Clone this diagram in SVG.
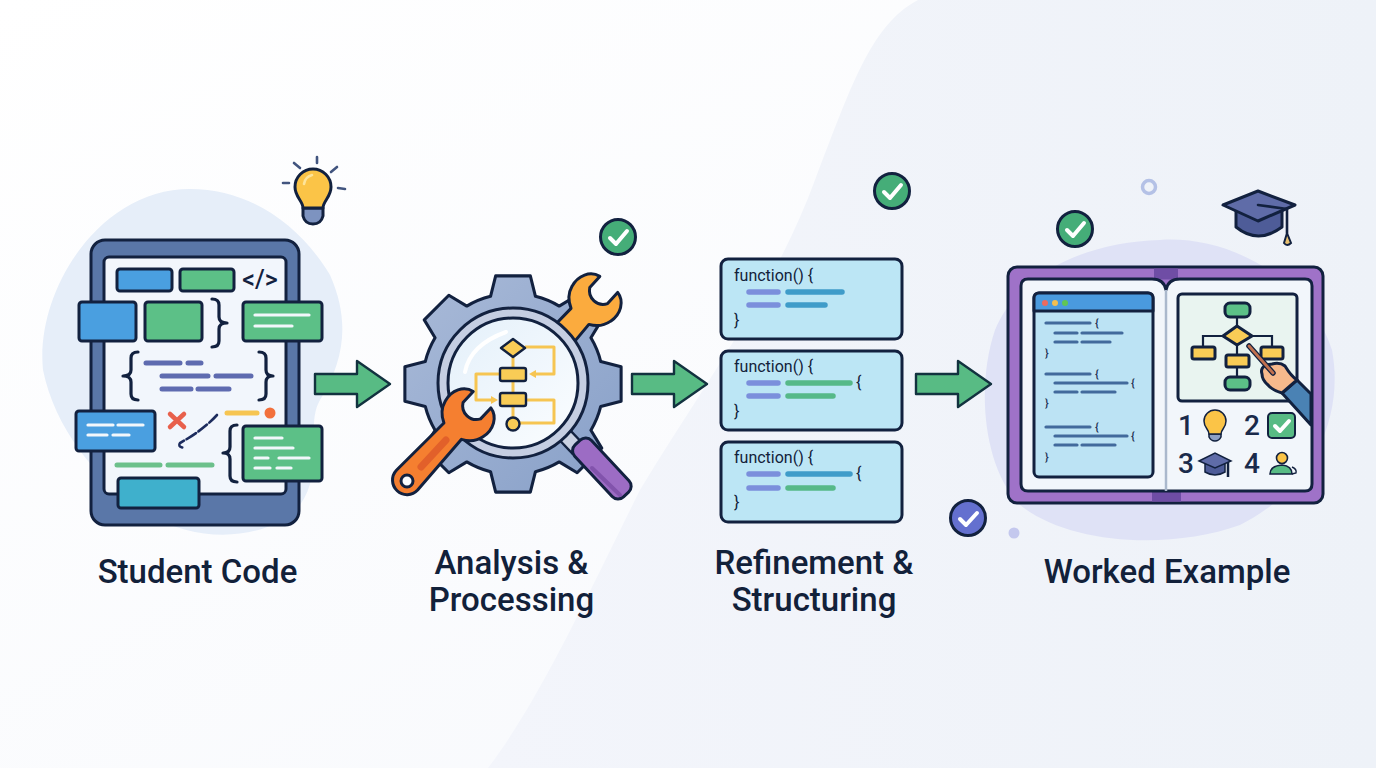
<svg xmlns="http://www.w3.org/2000/svg" xmlns:xlink="http://www.w3.org/1999/xlink" width="1376" height="768" viewBox="0 0 1376 768">
<style>
.o{stroke:#12213f;stroke-width:3;stroke-linejoin:round}
.t{stroke:#12213f;stroke-width:3.2;fill:none;stroke-linecap:round;stroke-linejoin:round}
.wl{stroke:#f2f7fb;stroke-width:3.2;stroke-linecap:round;fill:none}
.pl{stroke:#5f6bb0;stroke-width:5;stroke-linecap:round;fill:none}
.gl{stroke:#6cc08b;stroke-width:5;stroke-linecap:round;fill:none}
.yl{stroke:#f6c552;stroke-width:3;fill:none;stroke-linejoin:round}
.vl{stroke:#7b8fdc;stroke-width:5.5;stroke-linecap:round}
.cl{stroke:#3f9cc9;stroke-width:5.5;stroke-linecap:round}
.ml{stroke:#56b988;stroke-width:5.5;stroke-linecap:round}
.sl{stroke:#426a9c;stroke-width:3.2;stroke-linecap:round;fill:none}
.label{font-family:Roboto,"Liberation Sans",sans-serif;font-weight:500;font-size:33px;fill:#12213a;text-anchor:middle}
.code{font-family:Roboto,"Liberation Sans",sans-serif;font-weight:400;font-size:16px;fill:#12213a}
.mini{font-family:Roboto,"Liberation Sans",sans-serif;font-weight:500;font-size:11px;fill:#1b2e52}
.num{font-family:Roboto,"Liberation Sans",sans-serif;font-weight:500;font-size:28px;fill:#1a2a4a;text-anchor:middle}
.check{fill:none;stroke:#fff;stroke-width:4;stroke-linecap:round;stroke-linejoin:round}
</style>
<defs>
<linearGradient id="bg" x1="0" y1="0" x2="1" y2="1"><stop offset="0" stop-color="#ffffff"/><stop offset="1" stop-color="#f6f8fc"/></linearGradient>
<linearGradient id="sw" gradientUnits="userSpaceOnUse" x1="488" y1="0" x2="1376" y2="0"><stop offset="0" stop-color="#f3f5fb"/><stop offset="1" stop-color="#eef2f8"/></linearGradient>
<linearGradient id="gear" x1="0" y1="0" x2="1" y2="1"><stop offset="0" stop-color="#a9bad8"/><stop offset="1" stop-color="#88a0c8"/></linearGradient>
<linearGradient id="lens" x1="0" y1="0" x2="1" y2="1"><stop offset="0" stop-color="#e4f0fa"/><stop offset="1" stop-color="#fbfdff"/></linearGradient>
<path id="arrow" d="M0,-10 H42 V-23 L75,0 L42,23 V10 H0 Z" fill="#58bb84" stroke="#12323f" stroke-width="2.4" stroke-linejoin="round"/>
<path id="wr" d="M-12,-25 C-23,-23 -29,-11 -26,1 C-24,10 -18,15 -12,18 L-14.500,85 A14.500,14.500 0 0 0 14.500,85 L12,18 C18,15 24,10 26,1 C29,-11 23,-23 12,-25 L12,-10 Q8,-3 0,-3 Q-8,-3 -12,-10 Z"/>
</defs>

<g id="background">
<rect width="1376" height="768" fill="url(#bg)"/>
<path d="M918,0 C870,25 850,90 815,180 C775,290 700,390 640,490 C590,590 540,700 488,768 L1376,768 L1376,0 Z" fill="url(#sw)"/>
<path d="M190,189 C250,189 300,225 330,275 C350,320 345,360 320,400 C305,425 325,470 300,505 C270,540 200,545 150,515 C100,485 55,430 43,370 C35,290 100,189 190,189 Z" fill="#e6eef9"/>
<path d="M1160,240 C1230,235 1310,280 1332,350 C1345,420 1310,490 1240,525 C1170,550 1070,545 1020,505 C985,470 975,390 995,330 C1020,270 1090,242 1160,240 Z" fill="#dfe2f6"/>
</g>

<g id="connectors">
<use xlink:href="#arrow" href="#arrow" x="315" y="384"/>
<use xlink:href="#arrow" href="#arrow" x="632" y="384"/>
<use xlink:href="#arrow" href="#arrow" x="916" y="384"/>
</g>

<g id="node-student-code">
<rect x="91" y="240" width="208" height="285" rx="14" fill="#5a77a8" class="o"/>
<rect x="104" y="257" width="182" height="237" rx="5" fill="#f2f6fc" class="o"/>
<rect x="117" y="269" width="55" height="22" rx="3" fill="#4a9fe0" class="o"/>
<rect x="180" y="269" width="54" height="22" rx="3" fill="#5cc087" class="o"/>
<text x="260" y="288" font-family="Roboto,'Liberation Sans',sans-serif" font-size="25" font-weight="500" fill="#12213f" text-anchor="middle">&lt;/&gt;</text>
<rect x="79" y="302" width="57" height="39" rx="3" fill="#4a9fe0" class="o"/>
<rect x="145" y="302" width="57" height="39" rx="3" fill="#5cc087" class="o"/>
<path d="M212,299 Q219,299 219,305 V317 Q219,323 227,323 Q219,323 219,329 V341 Q219,347 212,347" class="t"/>
<rect x="243" y="302" width="79" height="39" rx="3" fill="#5cc087" class="o"/>
<path d="M255,315 H309 M255,326 H292" class="wl"/>
<path d="M138,352 Q131,352 131,358 V370 Q131,376 123,376 Q131,376 131,382 V394 Q131,400 138,400" class="t"/>
<path d="M259,352 Q266,352 266,358 V370 Q266,376 273,376 Q266,376 266,382 V394 Q266,400 259,400" class="t"/>
<path d="M146,363 H180 M188,363 H201 M162,376 H208 M216,376 H251 M162,389 H191 M198,389 H229" class="pl"/>
<rect x="76" y="411" width="79" height="40" rx="3" fill="#4a9fe0" class="o"/>
<path d="M88,425 H113 M118,425 H143 M88,435 H107 M113,435 H129" class="wl"/>
<path d="M170,414 L184,427 M184,414 L170,427" stroke="#e8604c" stroke-width="4.5" stroke-linecap="round"/>
<path d="M227,413 H257" stroke="#f6c552" stroke-width="5" stroke-linecap="round"/>
<circle cx="270" cy="413" r="5.5" fill="#f2703c"/>
<path d="M217,415 Q205,428 187,439 L180,443 Q177,447 185,448" fill="none" stroke="#1d2c5e" stroke-width="2.6" stroke-dasharray="11 3" stroke-linecap="round"/>
<path d="M237,425 Q230,425 230,431 V447 Q230,453 223,453 Q230,453 230,459 V476 Q230,482 237,482" class="t"/>
<rect x="243" y="426" width="79" height="55" rx="3" fill="#5cc087" class="o"/>
<path d="M255,438 H282 M255,448 H293 M255,458 H268 M279,458 H309 M255,468 H270 M277,468 H291" class="wl"/>
<path d="M117,465 H160 M168,465 H212" class="gl"/>
<rect x="118" y="478" width="81" height="30" rx="3" fill="#3fb0cc" class="o"/>
</g>

<g id="icon-bulb">
<path d="M317,157 V163 M294,163 L300,168 M337,167 L331,172 M283,183 H289 M338,188 L345,189" stroke="#42557f" stroke-width="2.6" stroke-linecap="round"/>
<path d="M303,216 V208 H323 V216 Q321,224 313,224 Q305,224 303,216 Z" fill="#7d93c0" class="o" stroke-width="2.6"/>
<path d="M303,208 C303,201 295,197 295,187 A18,18 0 1 1 331,187 C331,197 323,201 323,208 Z" fill="#fbc447" class="o" stroke-width="2.6"/>
<path d="M304,184 Q305,177 312,175" stroke="#fde49a" stroke-width="2.6" fill="none" stroke-linecap="round"/>
</g>

<g id="node-analysis">
<path transform="translate(513,384) scale(1.02)" fill="url(#gear)" class="o" d="M-22,-86 L-17,-106 L17,-106 L22,-86 A86,86 0 0 1 45.3,-76.4 L62.9,-87 L87,-62.9 L76.4,-45.3 A86,86 0 0 1 86,-22 L106,-17 L106,17 L86,22 A86,86 0 0 1 76.4,45.3 L87,62.9 L62.9,87 L45.3,76.4 A86,86 0 0 1 22,86 L17,106 L-17,106 L-22,86 A86,86 0 0 1 -45.3,76.4 L-62.9,87 L-87,62.9 L-76.4,45.3 A86,86 0 0 1 -86,22 L-106,17 L-106,-17 L-86,-22 A86,86 0 0 1 -76.4,-45.3 L-87,-62.9 L-62.9,-87 L-45.3,-76.4 A86,86 0 0 1 -22,-86 Z"/>
<use xlink:href="#wr" href="#wr" transform="translate(592,303) rotate(42)" fill="#fbab3e" class="o"/>
<path d="M558,428 L578,449" stroke="#12213f" stroke-width="17"/>
<path d="M558,428 L578,449" stroke="#c9d1e2" stroke-width="12"/>
<rect x="-2" y="-11.500" width="71" height="23" rx="8" transform="translate(579,444) rotate(47)" fill="#9c6cc4" class="o"/>
<path d="M592,468 L620,495" stroke="#8253ac" stroke-width="4" stroke-linecap="round"/>
<circle cx="513" cy="383" r="75" fill="#c5cee2" class="o"/>
<circle cx="513" cy="383" r="65" fill="url(#lens)" class="o"/>
<path d="M465,372 Q470,345 506,332" stroke="#fff" stroke-width="4" fill="none" stroke-linecap="round"/>
<path d="M513,356 V424" stroke="#f6c552" stroke-width="3"/>
<path d="M525,347 H554 V374 H534 M500,374 H476 V400 H493 M526,400 H554 V423 H520" class="yl"/>
<path d="M529,374 L536,370 V378 Z M498,400 L491,396 V404 Z" fill="#f6c552"/>
<path d="M513,339 L525,348 L513,357 L501,348 Z" fill="#f9cc56" stroke="#12213f" stroke-width="2.4" stroke-linejoin="round"/>
<rect x="500" y="368" width="26" height="13" rx="2" fill="#f9cc56" stroke="#12213f" stroke-width="2.4"/>
<rect x="500" y="393" width="26" height="13" rx="2" fill="#f9cc56" stroke="#12213f" stroke-width="2.4"/>
<circle cx="513" cy="424" r="6.5" fill="#f9cc56" stroke="#12213f" stroke-width="2.4"/>
<use xlink:href="#wr" href="#wr" transform="translate(465,418) rotate(43)" fill="#f57f30" class="o"/>
<path d="M446,440 L421,467" stroke="#e2602a" stroke-width="7" stroke-linecap="round"/>
<circle cx="407" cy="481" r="6" fill="#fbfdff" class="o"/>
</g>

<g id="node-refinement">
<g id="fn-1">
<rect x="721" y="259" width="181" height="80" rx="7" fill="#bce6f5" class="o"/>
<text x="734" y="281" class="code">function() {</text>
<path d="M749,292 H778 M749,305 H778" class="vl"/>
<path d="M788,292 H842 M788,305 H825" class="cl"/>
<text x="734" y="326" class="code">}</text>
</g>
<g id="fn-2">
<rect x="721" y="351" width="181" height="79" rx="7" fill="#bce6f5" class="o"/>
<text x="734" y="372" class="code">function() {</text>
<path d="M749,383 H778 M749,396 H778" class="vl"/>
<path d="M788,383 H850 M788,396 H833" class="ml"/>
<text x="856" y="388" class="code">{</text>
<text x="734" y="417" class="code">}</text>
</g>
<g id="fn-3">
<rect x="721" y="442" width="181" height="80" rx="7" fill="#bce6f5" class="o"/>
<text x="734" y="463" class="code">function() {</text>
<path d="M749,474 H778 M749,488 H778" class="vl"/>
<path d="M788,474 H850" class="cl"/>
<path d="M788,488 H833" class="ml"/>
<text x="856" y="479" class="code">{</text>
<text x="734" y="508" class="code">}</text>
</g>
</g>

<g id="node-worked-example">
<rect x="1008" y="267" width="315" height="236" rx="9" fill="#9f72c8" class="o"/>
<rect x="1154" y="268.500" width="24" height="11" fill="#6f4da5"/>
<rect x="1152" y="491" width="29" height="10.500" fill="#6f4da5"/>
<path d="M1021,286 Q1021,279 1028,279 H1152 Q1164,279 1166,290 Q1168,279 1180,279 H1305 Q1312,279 1312,286 V484 Q1312,491 1305,491 H1028 Q1021,491 1021,484 Z" fill="#f2f6fb" class="o"/>
<path d="M1166,290 V491" stroke="#aab8cc" stroke-width="2.500"/>
<rect x="1034" y="293" width="119" height="184" rx="5" fill="#bce3f4" class="o"/>
<path d="M1034,311 V298 Q1034,293 1039,293 H1148 Q1153,293 1153,298 V311 Z" fill="#4a9ade" class="o"/>
<circle cx="1045" cy="303" r="3" fill="#ec6a5e"/><circle cx="1055" cy="303" r="3" fill="#f3bf4f"/><circle cx="1065" cy="303" r="3" fill="#61c554"/>
<path d="M1046,323 H1090 M1055,333 H1077 M1082,333 H1122 M1055,342 H1077 M1082,342 H1110 M1046,374 H1090 M1055,383 H1127 M1055,392 H1077 M1082,392 H1115 M1046,427 H1090 M1055,436 H1127 M1055,445 H1077 M1082,445 H1115" class="sl"/>
<text x="1095" y="327" class="mini">{</text><text x="1045" y="357" class="mini">}</text>
<text x="1095" y="378" class="mini">{</text><text x="1131" y="387" class="mini">{</text><text x="1045" y="407" class="mini">}</text>
<text x="1095" y="431" class="mini">{</text><text x="1131" y="440" class="mini">{</text><text x="1045" y="461" class="mini">}</text>
<rect x="1178" y="294" width="119" height="107" rx="4" fill="#e9f4f0" class="o"/>
<path d="M1237,317 V377 M1203,347 V336 H1272 V347" stroke="#12213f" stroke-width="2.200" fill="none"/>
<rect x="1225" y="303" width="25" height="14" rx="5" fill="#5cc087" class="o" stroke-width="2.400"/>
<path d="M1237,326 L1252,336 L1237,345 L1223,336 Z" fill="#f9cc56" class="o" stroke-width="2.400"/>
<rect x="1192" y="347" width="23" height="12" rx="2" fill="#f9cc56" class="o" stroke-width="2.400"/>
<rect x="1261" y="347" width="22" height="12" rx="2" fill="#f9cc56" class="o" stroke-width="2.400"/>
<rect x="1226" y="355" width="23" height="12" rx="2" fill="#f9cc56" class="o" stroke-width="2.400"/>
<rect x="1225" y="377" width="25" height="13" rx="5" fill="#5cc087" class="o" stroke-width="2.400"/>
<path d="M1282,393 L1297,380 L1311,394 V425 Z" fill="#4a82b4" class="o" stroke-width="2.400"/>
<path d="M1262,374 Q1260,368 1266,365 L1272,364 Q1280,362 1285,366 Q1291,376 1297,380 L1282,393 Q1272,390 1268,385 Q1262,380 1262,374 Z" fill="#f6b98c" class="o" stroke-width="2.400"/>
<path d="M1249,346 L1273,373" stroke="#12213f" stroke-width="5.500" stroke-linecap="round"/>
<path d="M1249,346 L1273,373" stroke="#c0704f" stroke-width="2.800" stroke-linecap="round"/>
<text x="1186" y="435" class="num">1</text>
<text x="1252" y="435" class="num">2</text>
<text x="1186" y="473" class="num">3</text>
<text x="1252" y="473" class="num">4</text>
<g id="mini-bulb">
<path d="M1209,434 H1221 V437 Q1219,441 1215,441 Q1211,441 1209,437 Z" fill="#8d9fc4" stroke="#12213f" stroke-width="1.500"/>
<path d="M1209,434 C1209,429 1204,428 1204,421 A11,11 0 1 1 1226,421 C1226,428 1221,429 1221,434 Z" fill="#fbc447" stroke="#12213f" stroke-width="1.500"/>
</g>
<rect x="1268" y="413" width="27" height="25" rx="4" fill="#58bb84" stroke="#12213f" stroke-width="2"/>
<path d="M1275,426 L1280,431 L1289,421" class="check" stroke-width="3"/>
<g id="mini-cap">
<path d="M1205,464 V472 Q1215,478 1225,472 V464 Z" fill="#4e5c98" stroke="#12213f" stroke-width="1.500"/>
<path d="M1199,461 L1215,453 L1231,461 L1215,468 Z" fill="#5f6ca8" stroke="#12213f" stroke-width="1.500"/>
<path d="M1228,462 V477" stroke="#12213f" stroke-width="2.500"/>
</g>
<g id="mini-person">
<circle cx="1282" cy="458" r="5.500" fill="#fbc447" stroke="#12213f" stroke-width="1.600"/>
<path d="M1270,474 Q1270,466 1282,465 Q1292,466 1292,474 Z" fill="#58bb84" stroke="#12213f" stroke-width="1.600"/>
<path d="M1292,467 Q1297,469 1296,473 L1292,474" fill="none" stroke="#12213f" stroke-width="1.400"/>
</g>
</g>

<g id="icon-check-1"><circle cx="618" cy="237" r="17.500" fill="#45ad78" class="o"/><path d="M610,238 L616,244 L627,231" class="check"/></g>
<g id="icon-check-2"><circle cx="892" cy="191" r="17.500" fill="#45ad78" class="o"/><path d="M884,192 L890,198 L901,185" class="check"/></g>
<g id="icon-check-3"><circle cx="1075" cy="229" r="17.500" fill="#45ad78" class="o"/><path d="M1067,230 L1073,236 L1084,223" class="check"/></g>
<g id="icon-check-4"><circle cx="968" cy="518" r="17.500" fill="#6470cf" class="o"/><path d="M960,519 L966,525 L977,513" class="check"/></g>
<circle id="deco-ring" cx="1149" cy="187" r="6.500" fill="none" stroke="#b4c1e6" stroke-width="3.500"/>
<circle id="deco-dot" cx="1014" cy="533" r="5.500" fill="#c4c8ee"/>
<g id="icon-cap">
<path d="M1236,210 V227 Q1258,245 1282,227 V210 Z" fill="#4e5c98" class="o"/>
<path d="M1223,205 L1258,191 L1295,205 L1258,221 Z" fill="#5f6ca8" class="o"/>
<path d="M1258,205 L1287,209 V233" fill="none" stroke="#12213f" stroke-width="2.600" stroke-linecap="round" stroke-linejoin="round"/>
<path d="M1287,233 L1291,243 Q1287,247 1284,243 Z" fill="#e8c06f" stroke="#12213f" stroke-width="2"/>
</g>

<g id="labels">
<text x="197.500" y="583" class="label">Student Code</text>
<text x="511.500" y="574" class="label">Analysis &amp;</text>
<text x="511.500" y="611" class="label">Processing</text>
<text x="814" y="574" class="label">Refinement &amp;</text>
<text x="814" y="611" class="label">Structuring</text>
<text x="1167" y="583" class="label">Worked Example</text>
</g>
</svg>
